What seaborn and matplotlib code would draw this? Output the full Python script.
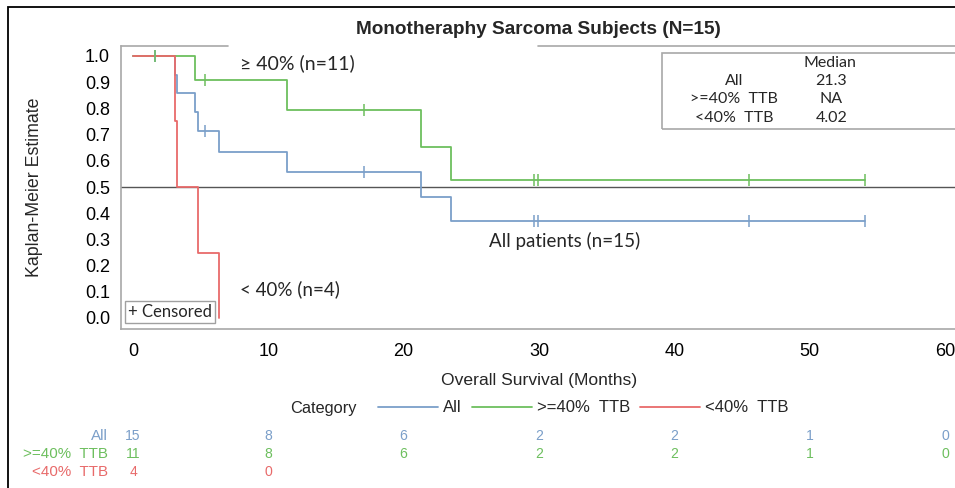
import matplotlib
matplotlib.use('Agg')
import matplotlib.pyplot as plt
import matplotlib.transforms as mtransforms
from matplotlib.patches import Rectangle
from matplotlib.lines import Line2D
from matplotlib import font_manager
import pandas as pd
import seaborn as sns

# Kaplan-Meier steps (time in months, survival estimate)
all_t = [0, 3.1, 3.24, 4.6, 4.8, 6.35, 11.4, 21.3, 23.5, 54.1]
all_s = [1.0, 0.929, 0.857, 0.786, 0.714, 0.635, 0.556, 0.463, 0.370, 0.370]
hi_t = [0, 4.6, 11.4, 21.3, 23.5, 54.1]
hi_s = [1.0, 0.909, 0.795, 0.653, 0.527, 0.527]
lo_t = [0, 3.1, 3.24, 4.8, 6.35]
lo_s = [1.0, 0.75, 0.5, 0.25, 0.0]

# censored subjects
all_cens_t = [1.6, 5.3, 17.1, 29.6, 29.9, 45.5, 54.1]
all_cens_s = [1.0, 0.714, 0.556, 0.370, 0.370, 0.370, 0.370]
hi_cens_t = [1.6, 5.3, 17.1, 29.6, 29.9, 45.5, 54.1]
hi_cens_s = [1.0, 0.909, 0.795, 0.527, 0.527, 0.527, 0.527]

categories = ['All', '>=40%  TTB', '<40%  TTB']
colors = ['#7b9fc9', '#6dbf5e', '#e86a6a']
medians = ['21.3', 'NA', '4.02']

# number at risk
risk_times = [0, 10, 20, 30, 40, 50, 60]
risk_all = [15, 8, 6, 2, 2, 1, 0]
risk_hi = [11, 8, 6, 2, 2, 1, 0]
risk_lo = [4, 0]


def has_font(name):
    try:
        font_manager.findfont(font_manager.FontProperties(family=name),
                              fallback_to_default=False)
        return True
    except ValueError:
        return False


sns.set_theme(style='white')
plt.rcParams['font.family'] = ['Liberation Sans', 'DejaVu Sans']
narrow = 'Liberation Sans Narrow' if has_font('Liberation Sans Narrow') else 'Liberation Sans'
nscale = 1.0 if narrow == 'Liberation Sans Narrow' else 0.84
soft = ['Lato', 'DejaVu Sans']

df = pd.concat([
    pd.DataFrame({'time': all_t, 'surv': all_s, 'Category': categories[0]}),
    pd.DataFrame({'time': hi_t, 'surv': hi_s, 'Category': categories[1]}),
    pd.DataFrame({'time': lo_t, 'surv': lo_s, 'Category': categories[2]}),
])

fig = plt.figure(figsize=(9.55, 4.88), dpi=100)
W, H = 955, 488
ax = fig.add_axes([121 / W, 1 - 329 / H, (958 - 121) / W, (329 - 46) / H])

ax.axhline(0.5, color='#555555', lw=1.0, zorder=1)
sns.lineplot(data=df, x='time', y='surv', hue='Category', hue_order=categories,
             palette=colors, drawstyle='steps-post', estimator=None, sort=False,
             lw=1.3, legend=False, ax=ax, zorder=3)
ax.plot(all_cens_t, all_cens_s, ls='none', marker='|', ms=8, mew=1.1, color=colors[0], zorder=3)
ax.plot(hi_cens_t, hi_cens_s, ls='none', marker='|', ms=8, mew=1.1, color=colors[1], zorder=4)

px = 60 / (945 - 133)
ax.set_xlim(-12 * px, (958 - 133) * px)
ax.set_ylim(-11 / 262, 1 + 10 / 262)
ax.set_xticks(risk_times)
ax.set_yticks([i / 10 for i in range(11)])
ax.set_yticklabels([f'{i / 10:.1f}' for i in range(11)])
ax.tick_params(axis='both', color='#999999', labelcolor='black', labelsize=13,
               length=6, width=1, direction='out')
ax.tick_params(axis='y', pad=2)
ax.tick_params(axis='x', pad=4)
ax.grid(False)

for side in ['left', 'bottom']:
    ax.spines[side].set_color('#a8a8a8')
    ax.spines[side].set_linewidth(1.2)
ax.spines['right'].set_visible(False)
ax.spines['top'].set_visible(False)
# top frame is broken where the title sits
for a, b in [(0, (228 - 121) / 837), ((538 - 121) / 837, 1)]:
    ax.plot([a, b], [1, 1], color='#a8a8a8', lw=1.2, transform=ax.transAxes, clip_on=False)

ax.set_xlabel('Overall Survival (Months)', fontsize=12.6, va='center')
ax.set_ylabel('Kaplan-Meier Estimate', fontsize=12.8, va='center')
ax.xaxis.set_label_coords(0.5, (329 - 380) / 283)
ax.yaxis.set_label_coords((35 - 121) / 837, 0.5)

fig.text(538 / W, 1 - 29 / H, 'Monotheraphy Sarcoma Subjects (N=15)',
         ha='center', va='center', fontsize=13.7, fontweight='bold')

# curve annotations
ax.text(7.9, 0.973, '≥ 40% (n=11)', fontsize=14, family=soft, va='center')
ax.text(26.3, 0.294, 'All patients (n=15)', fontsize=13.5, family=soft, va='center')
ax.text(7.9, 0.111, '< 40% (n=4)', fontsize=13.5, family=soft, va='center')
ax.text(-0.35, 0.023, '+ Censored', fontsize=12, family=soft, va='center',
        bbox=dict(boxstyle='square,pad=0.2', fc='white', ec='#a0a0a0', lw=1))

# median inset box
ax.add_patch(Rectangle((39.1, 0.721), 30, 0.29, fill=False, ec='#a8a8a8', lw=1.2,
                       clip_on=False, zorder=2))
ax.text(51.5, 0.972, 'Median', fontsize=11.5, family=soft, ha='center', va='center')
for i, (lab, med) in enumerate(zip(categories, medians)):
    yy = 0.905 - i * 0.071
    ax.text(44.4, yy, lab, fontsize=11.5, family=soft, ha='center', va='center')
    ax.text(51.6, yy, med, fontsize=11.5, family=soft, ha='center', va='center')

# legend row
fig.text(290 / W, 1 - 408 / H, 'Category', fontsize=14 * nscale, family=narrow, va='center')
handles = [Line2D([], [], color=c, lw=1.3) for c in colors]
fig.legend(handles, categories, loc='center left', bbox_to_anchor=(378 / W, 1 - 408 / H),
           ncol=3, frameon=False, borderpad=0, borderaxespad=0,
           handlelength=3.6, handletextpad=0.3, columnspacing=0.6,
           prop={'family': narrow, 'size': 14.3 * nscale})

# number-at-risk table
tr = mtransforms.blended_transform_factory(ax.transData, fig.transFigure)
rows = [risk_all, risk_hi, risk_lo]
for i, (lab, col, counts) in enumerate(zip(categories, colors, rows)):
    yy = 1 - (436 + 18 * i) / H
    fig.text(108 / W, yy, lab, color=col, fontsize=13 * nscale, family=narrow,
             ha='right', va='center')
    for t, n in zip(risk_times, counts):
        ax.text(t, yy, str(n), color=col, fontsize=12 * nscale, family=narrow,
                ha='center', va='center', transform=tr, clip_on=False)

# outer frame of the exported graphic
fig.add_artist(Rectangle((8 / W, -0.5), 2, 1.5 - 7 / H, transform=fig.transFigure,
                         fill=False, ec='black', lw=1.3))

fig.savefig('out.png', dpi=100)
